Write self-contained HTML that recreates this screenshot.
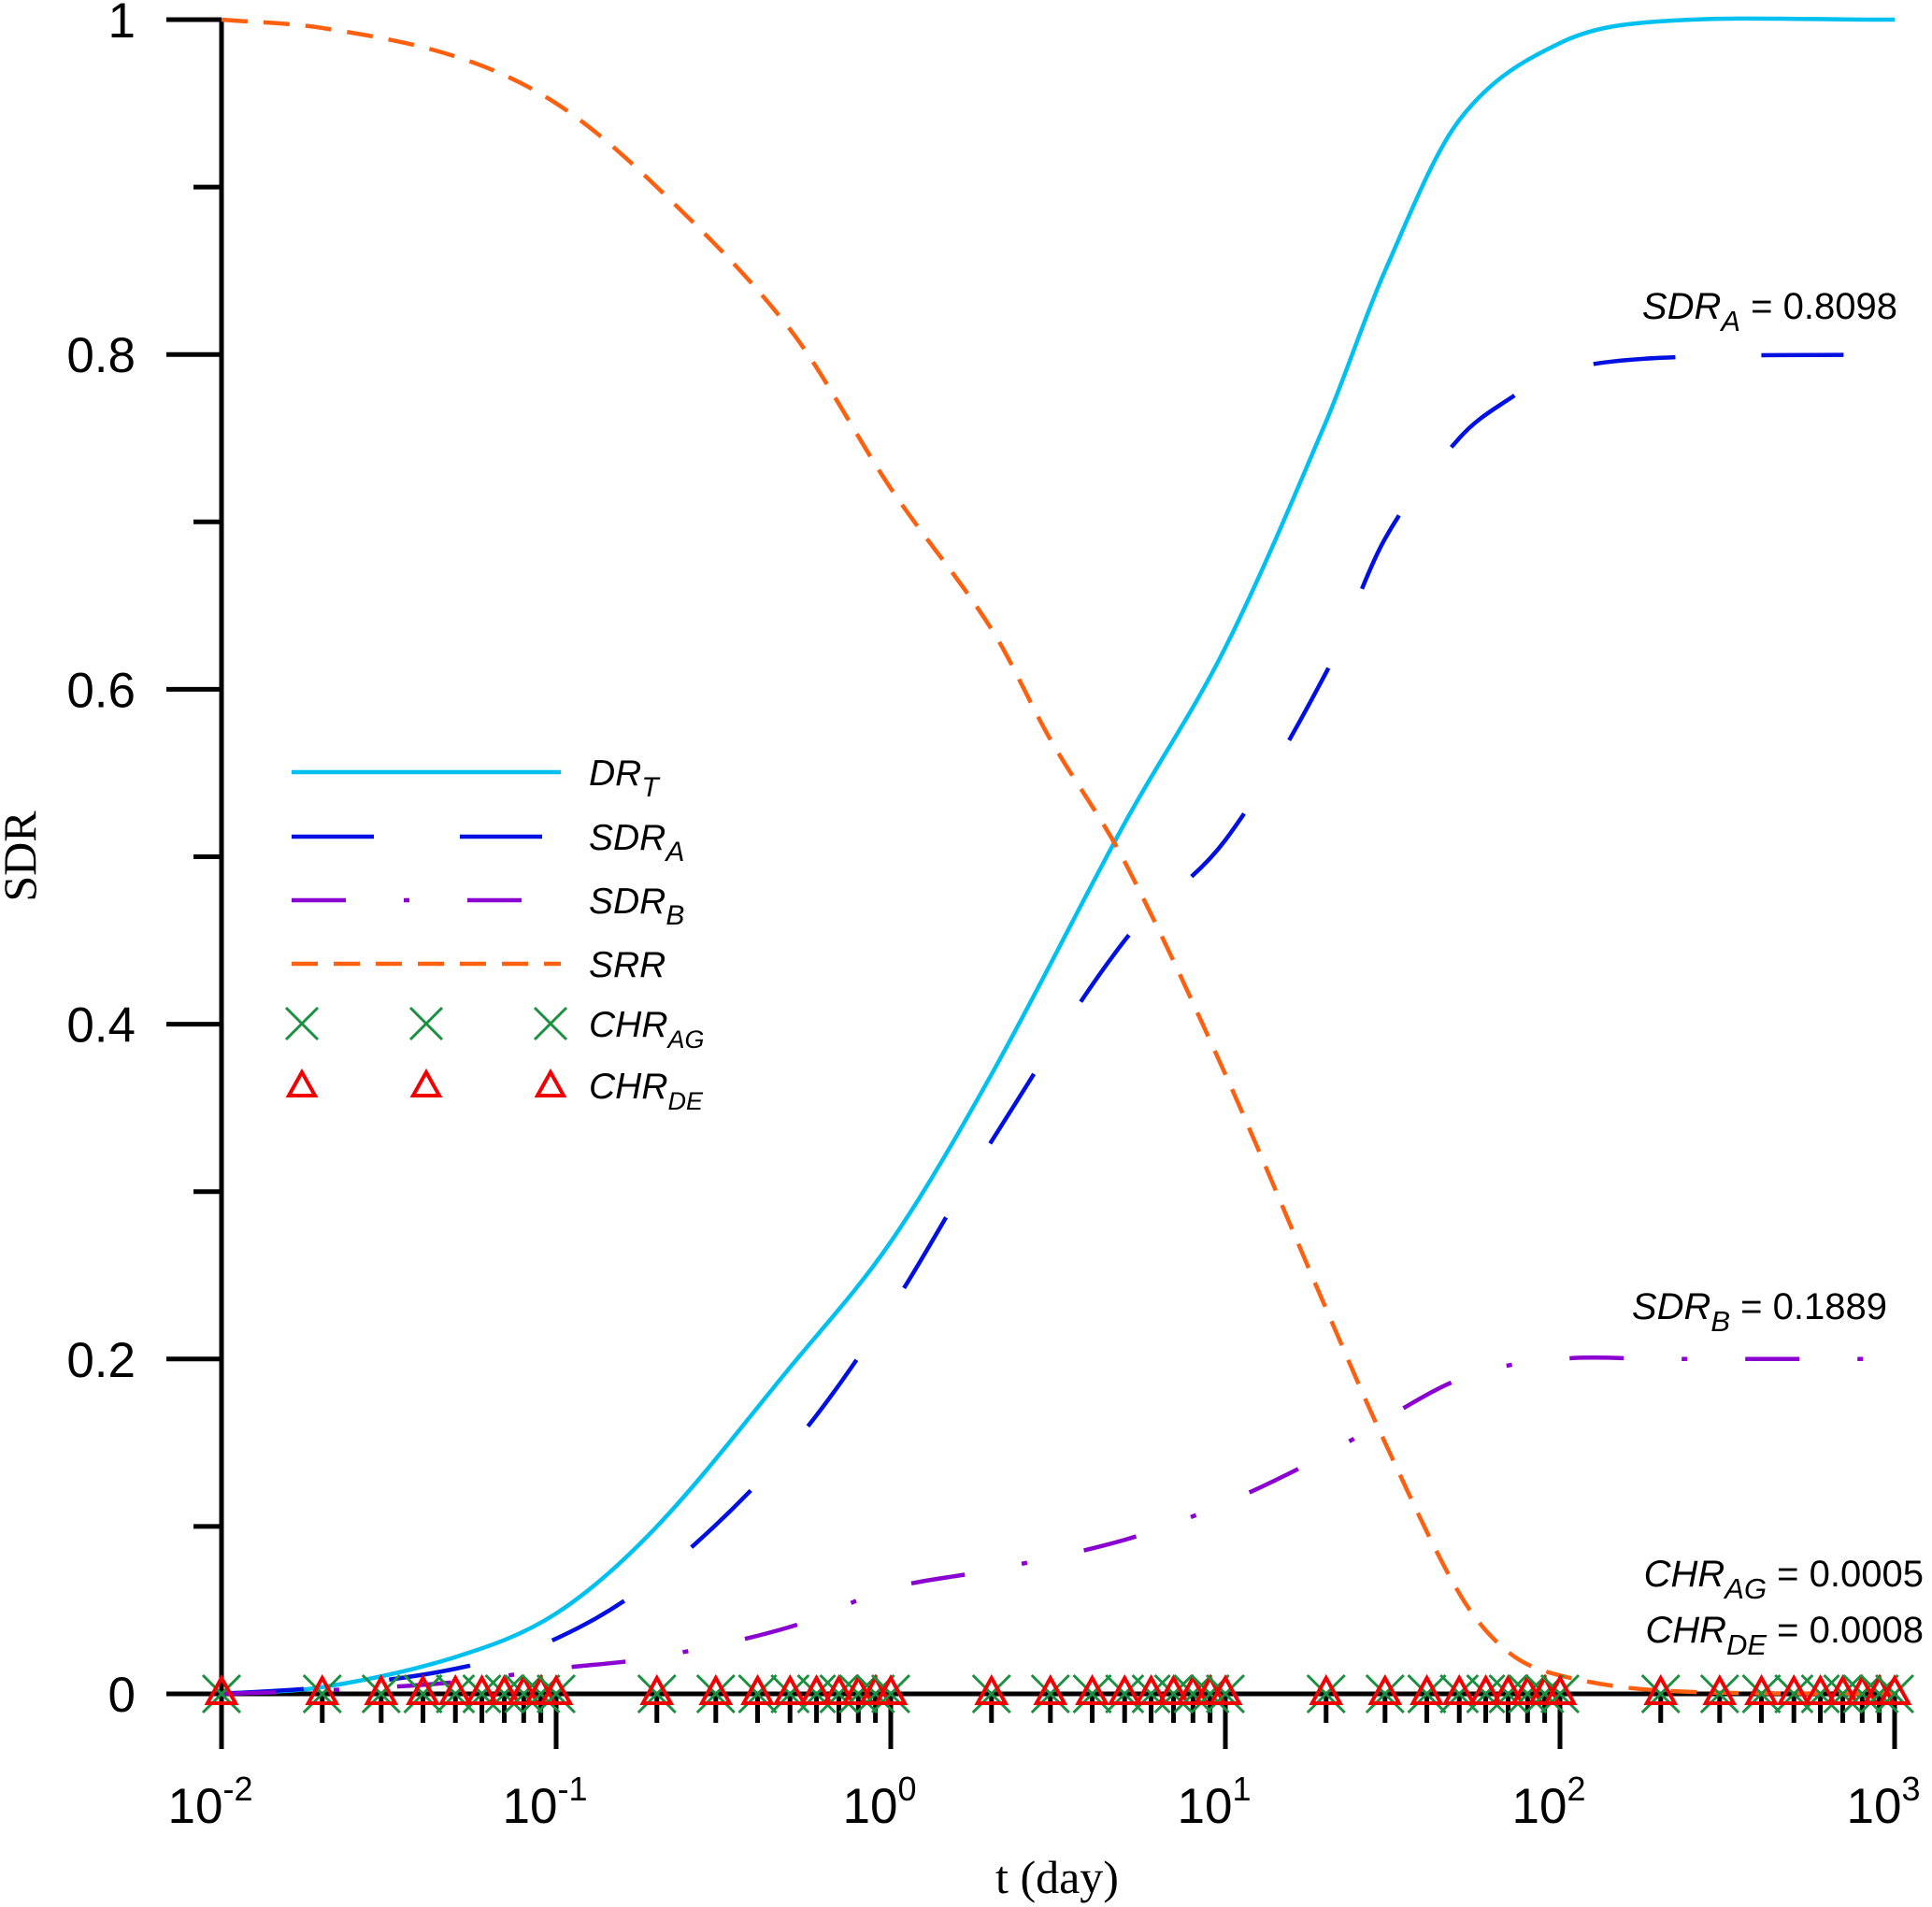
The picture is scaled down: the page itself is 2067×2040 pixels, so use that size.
<!DOCTYPE html>
<html><head><meta charset="utf-8"><style>
html,body{margin:0;padding:0;background:#fff}
svg{display:block}
text{font-family:"Liberation Sans",sans-serif}
text.serif{font-family:"Liberation Serif",serif}
</style></head><body>
<svg id="chart" width="2067" height="2040" viewBox="0 0 2067 2040" xmlns="http://www.w3.org/2000/svg"></svg>
<script>
const tDR=[0.01,0.02,0.05,0.1,0.2,0.5,1,2,5,10,20,30,50,100,200,1000];
const vDR=[0,0.004,0.022,0.048,0.1,0.195,0.27,0.37,0.52,0.625,0.76,0.85,0.94,0.986,0.999,1];
const tA=[0.01,0.02,0.05,0.1,0.2,0.5,1,2,5,10,20,30,50,70,100,200,1000];
const vA=[0,0.004,0.015,0.033,0.07,0.147,0.23,0.33,0.45,0.51,0.61,0.69,0.75,0.773,0.79,0.798,0.8];
const tB=[0.01,0.02,0.05,0.1,0.2,0.5,1,2,5,10,20,50,100,200,1000];
const vB=[0,0.002,0.007,0.015,0.022,0.04,0.063,0.074,0.092,0.114,0.143,0.188,0.2,0.2,0.2];
const tS=[0.01,0.02,0.05,0.1,0.2,0.5,1,2,3,5,10,20,30,50,70,100,200,1000];
const vS=[1,0.995,0.978,0.95,0.9,0.815,0.72,0.636,0.57,0.497,0.37,0.23,0.15,0.06,0.025,0.011,0.002,0];
const markerT=[];
for(let k=-2;k<=2;k++){for(let m=1;m<=9;m++){markerT.push(m*Math.pow(10,k));}}
markerT.push(1000);
const markerV=markerT.map(()=>0);
const yTicks=[0,0.1,0.2,0.3,0.4,0.5,0.6,0.7,0.8,0.9,1];
const yLabels=["0","","0.2","","0.4","","0.6","","0.8","","1"];
const xExp=[-2,-1,0,1,2,3];

const NS="http://www.w3.org/2000/svg";
const svg=document.getElementById('chart');
const X0=237,DEC=358,Y0=1812,YH=1791;
const xs=t=>X0+(Math.log10(t)+2)*DEC;
const ys=v=>Y0-v*YH;
function mk(tag,attrs,parent){const e=document.createElementNS(NS,tag);for(const k in attrs)e.setAttribute(k,attrs[k]);(parent||svg).appendChild(e);return e;}
function smooth(ts,vs){
 const p=ts.map((t,i)=>[xs(t),ys(vs[i])]);let d='M'+p[0][0]+','+p[0][1];
 for(let i=0;i<p.length-1;i++){const p0=p[Math.max(0,i-1)],p1=p[i],p2=p[i+1],p3=p[Math.min(p.length-1,i+2)];
 const h=p2[0]-p1[0];
 const s1=(p2[1]-p0[1])/((p2[0]-p0[0])||1),s2=(p3[1]-p1[1])/((p3[0]-p1[0])||1);
 const c1=[p1[0]+h/3,p1[1]+s1*h/3],c2=[p2[0]-h/3,p2[1]-s2*h/3];
 d+=' C'+c1.join(',')+' '+c2.join(',')+' '+p2.join(',');}return d;}

let e;
e=mk('line',{x1:X0,y1:21,x2:X0,y2:Y0,stroke:'#000','stroke-width':5});


e=mk('line',{x1:X0,y1:Y0,x2:2030,y2:Y0,stroke:'#000','stroke-width':5});


yTicks.forEach((v,i)=>{
 const major=yLabels[i]!=="";
 e=mk('line',{x1:major?178:207,y1:ys(v),x2:X0,y2:ys(v),stroke:'#000','stroke-width':5});
 
 
 if(major){e=mk('text',{x:145,y:ys(v)+19,'text-anchor':'end','font-size':53});e.textContent=yLabels[i];
 
 }
});
xExp.forEach(k=>{
 const x=xs(Math.pow(10,k));
 e=mk('line',{x1:x,y1:Y0,x2:x,y2:1871,stroke:'#000','stroke-width':5});
 
 
 if(k<3)for(let m=2;m<=9;m++){e=mk('line',{x1:xs(m*Math.pow(10,k)),y1:Y0,x2:xs(m*Math.pow(10,k)),y2:1843,stroke:'#000','stroke-width':5});
 
 }
 e=mk('text',{x:x-12,y:1950,'text-anchor':'middle','font-size':53});
 
 
 e.innerHTML='10<tspan dy="-24" font-size="36">'+k+'</tspan>';
});
e=mk('text',{x:1131,y:2025,'text-anchor':'middle','font-size':50,'class':'serif'});e.textContent='t (day)';


e=mk('text',{x:0,y:0,'text-anchor':'middle','font-size':50,'class':'serif',transform:'translate(38,916) rotate(-90)'});e.textContent='SDR';



const series=[
 [tDR,vDR,'#00c0f0','none','series-dr-t'],
 [tA,vA,'#0010e0','88 92','series-sdr-a'],
 [tB,vB,'#8a00d0','58 62 6 62','series-sdr-b'],
 [tS,vS,'#ff6010','28 17','series-srr']];
series.forEach(s=>{
 e=mk('path',{d:smooth(s[0],s[1]),fill:'none',stroke:s[2],'stroke-width':4.5,'stroke-dasharray':s[3]});
 
 
});
markerT.forEach((t,i)=>{
 const x=xs(t),y=ys(markerV[i]);
 e=mk('path',{d:`M${x-20},${y-20}L${x+20},${y+20}M${x-20},${y+20}L${x+20},${y-20}`,stroke:'#1a9040','stroke-width':3,fill:'none'});
 
 
 e=mk('path',{d:`M${x},${y-17}L${x+15},${y+10}L${x-15},${y+10}Z`,stroke:'#f00000','stroke-width':4,fill:'none'});
 
 
});
const lg=mk('g',{});


const legLines=[[826,'#00c0f0','none','DR','T'],[895,'#0010e0','88 92','SDR','A'],[963,'#8a00d0','58 62 6 62','SDR','B'],[1031,'#ff6010','28 17','SRR','']];
legLines.forEach(l=>{
 e=mk('line',{x1:312,y1:l[0],x2:600,y2:l[0],stroke:l[1],'stroke-width':4.5,'stroke-dasharray':l[2]},lg);
 
 
 e=mk('text',{x:630,y:l[0]+14,'font-size':39,'font-style':'italic'},lg);
 e.innerHTML=l[3]+(l[4]?'<tspan dy="12" font-size="30">'+l[4]+'</tspan>':'');
 
 
});
[323,456,589].forEach(x=>{
 let y=1095;
 e=mk('path',{d:`M${x-17},${y-17}L${x+17},${y+17}M${x-17},${y+17}L${x+17},${y-17}`,stroke:'#1a9040','stroke-width':3,fill:'none'},lg);
 
 
 y=1161;
 e=mk('path',{d:`M${x},${y-14}L${x+14},${y+11}L${x-14},${y+11}Z`,stroke:'#f00000','stroke-width':4,fill:'none'},lg);
 
 
});
[[1095,'CHR','AG'],[1161,'CHR','DE']].forEach(l=>{
 e=mk('text',{x:630,y:l[0]+14,'font-size':39,'font-style':'italic'},lg);
 e.innerHTML=l[1]+'<tspan dy="12" font-size="27">'+l[2]+'</tspan>';
 
 
});
const ann=[[2030,341,'SDR','A','0.8098','annotation-sdr-a'],[2019,1411,'SDR','B','0.1889','annotation-sdr-b'],[2058,1697,'CHR','AG','0.0005','annotation-chr-ag'],[2058,1757,'CHR','DE','0.0008','annotation-chr-de']];
ann.forEach(a=>{
 e=mk('text',{x:a[0],y:a[1],'text-anchor':'end','font-size':40});
 e.innerHTML='<tspan font-style="italic">'+a[2]+'</tspan><tspan dy="13" font-size="31" font-style="italic">'+a[3]+'</tspan><tspan dy="-13"> = '+a[4]+'</tspan>';
 
 
});
</script>
</body></html>
